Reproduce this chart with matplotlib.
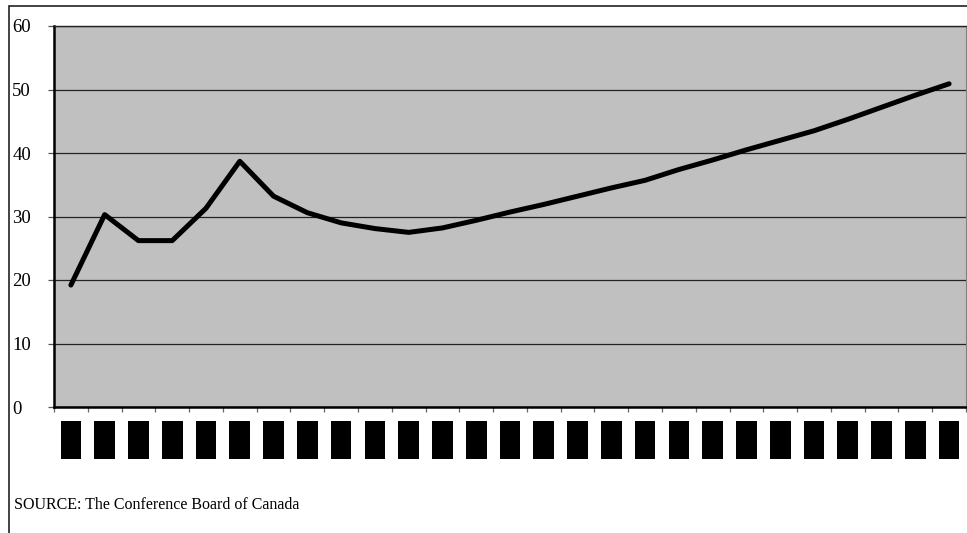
import matplotlib.pyplot as plt
from matplotlib.patches import Rectangle
import numpy as np

# yearly series, Conference Board of Canada
years = [str(y) for y in range(1995, 2022)]
values = [19.2, 30.3, 26.2, 26.2, 31.3, 38.7, 33.2, 30.6, 29.0, 28.1,
          27.5, 28.2, 29.4, 30.7, 31.9, 33.2, 34.5, 35.7, 37.4, 38.9,
          40.5, 42.0, 43.5, 45.3, 47.2, 49.1, 50.9]
y_ticks = [0, 10, 20, 30, 40, 50, 60]
source_note = 'SOURCE: The Conference Board of Canada'

W, H = 967, 533
plt.rcParams['font.family'] = ['Liberation Serif', 'DejaVu Serif']

fig = plt.figure(figsize=(W / 100, H / 100), dpi=100)
fig.patch.set_facecolor('white')

# plot area in pixel terms
left, right, top, bottom = 54, 966, 26, 407
ax = fig.add_axes([left / W, 1 - bottom / H, (right - left) / W, (bottom - top) / H])
ax.set_facecolor('#c0c0c0')

x = np.arange(len(values))
ax.plot(x, values, color='black', linewidth=3.6, solid_capstyle='round', zorder=3)

ax.set_xlim(-0.5, len(values) - 0.5)
ax.set_ylim(0, 60)

# horizontal gridlines
ax.set_yticks(y_ticks)
ax.set_yticklabels([str(v) for v in y_ticks], fontsize=13.5, ha='left')
ax.yaxis.grid(True, color='#222222', linewidth=0.9)
ax.set_axisbelow(True)
ax.tick_params(axis='y', length=4.5, width=0.9, color='#555555', pad=25.5)

# category labels between boundary ticks
ax.set_xticks(x)
ax.set_xticklabels(years, rotation=90, fontsize=11, color='black')
for lab in ax.get_xticklabels():
    lab.set_bbox(dict(boxstyle='square,pad=0.25', fc='black', ec='none'))
ax.set_xticks(np.arange(-0.5, len(values), 1.0), minor=True)
ax.tick_params(axis='x', which='major', length=0, pad=13)
ax.tick_params(axis='x', which='minor', length=3.8, width=0.9, color='#666666')

ax.spines['left'].set_linewidth(1.8)
ax.spines['left'].set_color('black')
ax.spines['bottom'].set_linewidth(1.8)
ax.spines['bottom'].set_color('black')
ax.spines['top'].set_linewidth(1.0)
ax.spines['top'].set_color('#222222')
ax.spines['right'].set_linewidth(0.8)
ax.spines['right'].set_color('#808080')

fig.text(14 / W, 1 - 509 / H, source_note, fontsize=11.5, ha='left', va='baseline')

# chart frame
fig.patches.append(Rectangle((9 / W, -0.1), 1.2, 1.1 - 6 / H, transform=fig.transFigure,
                             fill=False, edgecolor='#222222', linewidth=1.2))

fig.savefig('out.png', dpi=100)
